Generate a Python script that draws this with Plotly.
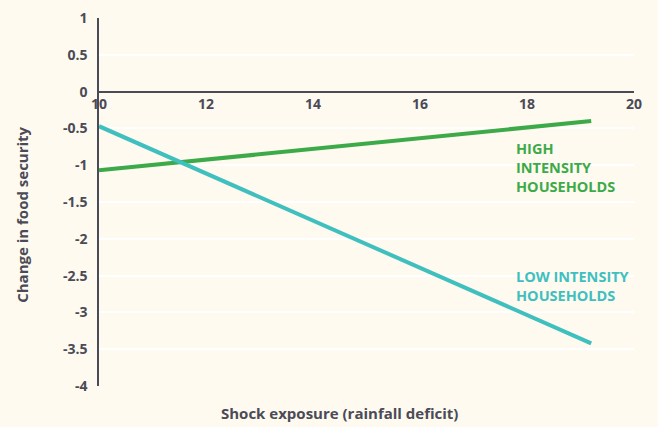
import plotly.graph_objects as go

# Data
x_vals = [10, 19.2]
high_intensity = [-1.07, -0.40]
low_intensity = [-0.47, -3.42]
x_ticks = [10, 12, 14, 16, 18, 20]
y_ticks = [1, 0.5, 0, -0.5, -1, -1.5, -2, -2.5, -3, -3.5, -4]
y_tick_labels = ["1", "0.5", "0", "-0.5", "-1", "-1.5", "-2", "-2.5", "-3", "-3.5", "-4"]

GREEN = "#3daa4a"
TEAL = "#40bfbf"
AXIS = "#4a4b57"
BG = "#fefaef"
FONT = "Open Sans"

fig = go.Figure()
fig.add_trace(go.Scatter(x=x_vals, y=high_intensity, mode="lines",
                         line=dict(color=GREEN, width=4), showlegend=False))
fig.add_trace(go.Scatter(x=x_vals, y=low_intensity, mode="lines",
                         line=dict(color=TEAL, width=4), showlegend=False))

fig.add_annotation(x=17.76, y=-1.03, xref="x", yref="y", xanchor="left", yanchor="middle",
                   text="HIGH<br>INTENSITY<br>HOUSEHOLDS", showarrow=False, align="left",
                   font=dict(family=FONT, size=14.5, color=GREEN, weight=700))
fig.add_annotation(x=17.76, y=-2.64, xref="x", yref="y", xanchor="left", yanchor="middle",
                   text="LOW INTENSITY<br>HOUSEHOLDS", showarrow=False, align="left",
                   font=dict(family=FONT, size=14.5, color=TEAL, weight=700))

fig.add_annotation(x=0.45, y=-0.073, xref="paper", yref="paper", xanchor="center", yanchor="middle",
                   text="Shock exposure (rainfall deficit)", showarrow=False,
                   font=dict(family=FONT, size=15, color=AXIS, weight=700))
fig.add_annotation(x=-0.144, y=0.465, xref="paper", yref="paper", xanchor="center", yanchor="middle",
                   text="Change in food security", showarrow=False, textangle=-90,
                   font=dict(family=FONT, size=15, color=AXIS, weight=700))

fig.update_layout(
    width=650, height=419,
    margin=dict(l=91, r=24, t=10, b=41, autoexpand=False),
    paper_bgcolor=BG, plot_bgcolor=BG,
    xaxis=dict(range=[10, 20], tickvals=x_ticks, anchor="free", position=0.8,
               automargin=False,
               showline=True, linecolor=AXIS, linewidth=1.5, showgrid=False,
               zeroline=False, ticks="", ticklabelstandoff=0, ticklabeloverflow="allow",
               tickfont=dict(family=FONT, size=14, color=AXIS, weight=700)),
    yaxis=dict(range=[-4, 1], tickvals=y_ticks, ticktext=y_tick_labels,
               automargin=False,
               showline=True, linecolor=AXIS, linewidth=1.5,
               showgrid=True, gridcolor="#ffffff", gridwidth=1.5,
               zeroline=False, ticks="", ticklabelstandoff=7, ticklabeloverflow="allow",
               tickfont=dict(family=FONT, size=14, color=AXIS, weight=700)),
)

fig.write_html("out.html", post_script="document.body.style.background='%s';" % BG)
